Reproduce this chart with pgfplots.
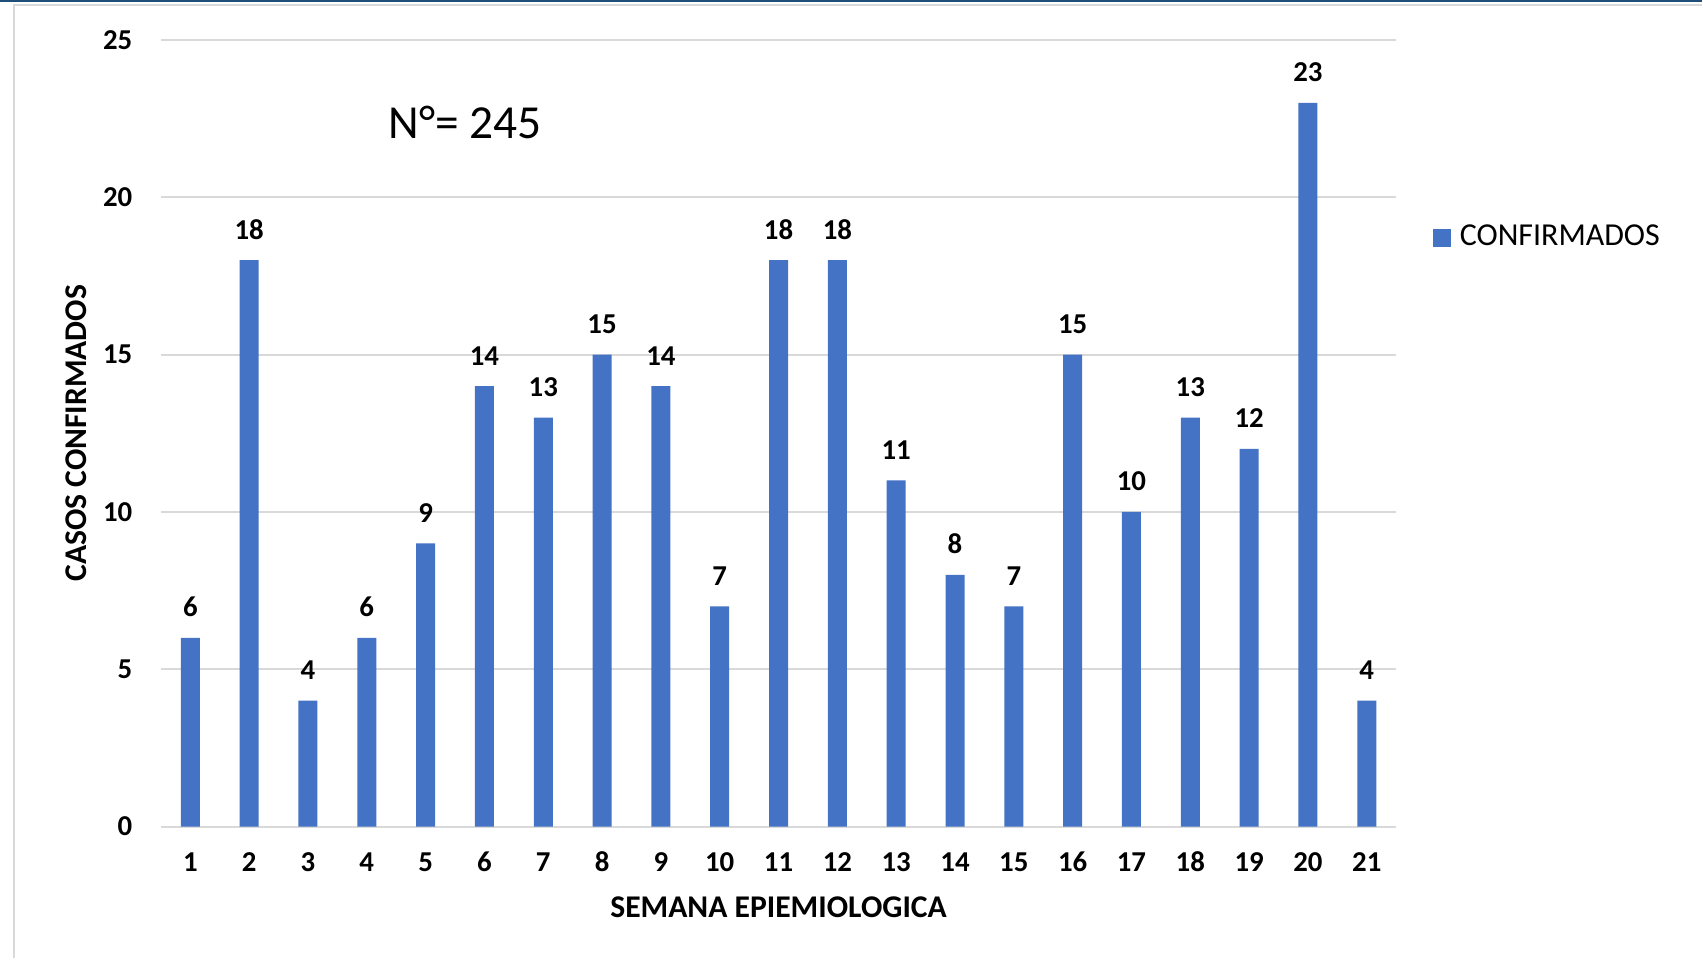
\documentclass[border=0pt]{standalone}
\usepackage{pgfplots}
\pgfplotsset{compat=1.18}
\usepackage{fontspec}
\setmainfont{Carlito}
\definecolor{barblue}{HTML}{4472C4}
\definecolor{gridgray}{HTML}{D9D9D9}
\definecolor{topnavy}{HTML}{1F4E79}

\begin{document}
\begin{tikzpicture}[x=1cm,y=1cm]
% page frame, 17.03 x 9.59 cm = 1703 x 959 px
\path (0,0) rectangle (17.03,9.59);
\fill[topnavy] (0,9.57) rectangle (17.03,9.59);
\draw[gridgray, line width=0.02cm] (0.145,0) -- (0.145,9.535) -- (17.03,9.535);

\begin{axis}[
    at={(1.61cm,1.32cm)}, anchor=south west,
    scale only axis,
    width=12.36cm, height=7.87cm,
    ybar, bar width=0.19cm,
    xmin=0.5, xmax=21.5,
    ymin=0, ymax=25,
    xtick={1,...,21},
    ytick={0,5,...,25},
    ymajorgrids,
    grid style={gridgray, line width=0.02cm},
    axis line style={draw=none},
    major tick length=0pt,
    /pgf/number format/assume math mode=true,
    ticklabel style={font=\fontsize{8.2}{10}\selectfont\bfseries, inner sep=0pt},
    yticklabel style={anchor=east, xshift=-0.28cm},
    xticklabel style={anchor=base, yshift=-0.45cm},
    xlabel={SEMANA EPIEMIOLOGICA},
    ylabel={CASOS CONFIRMADOS},
    label style={font=\fontsize{9}{11}\selectfont\bfseries},
    xlabel style={at={(axis description cs:0.5,-0.1156)}, anchor=base},
    ylabel style={at={(axis description cs:-0.0688,0.5)}, anchor=center, rotate=0},
    nodes near coords,
    every node near coord/.append style={font=\fontsize{8.2}{10}\selectfont\bfseries,
        inner sep=0pt, anchor=base, yshift=0.21cm},
    legend style={draw=none, fill=none, at={(axis description cs:1.0291,0.7484)},
        anchor=west, inner sep=0pt, column sep=0.09cm,
        nodes={inner sep=0pt, font=\fontsize{9.1}{11}\selectfont}},
    legend image code/.code={\fill[barblue] (0cm,-0.09cm) rectangle (0.18cm,0.09cm);},
]
\addplot[fill=barblue, draw=none] coordinates {
    (1,6) (2,18) (3,4) (4,6) (5,9) (6,14) (7,13) (8,15) (9,14) (10,7) (11,18)
    (12,18) (13,11) (14,8) (15,7) (16,15) (17,10) (18,13) (19,12) (20,23) (21,4)
};
\addlegendentry{CONFIRMADOS}
\end{axis}

\node[anchor=base west, inner sep=0pt, font=\fontsize{13.5}{16}\selectfont] at (3.88,8.20) {N°= 245};
\end{tikzpicture}
\end{document}
